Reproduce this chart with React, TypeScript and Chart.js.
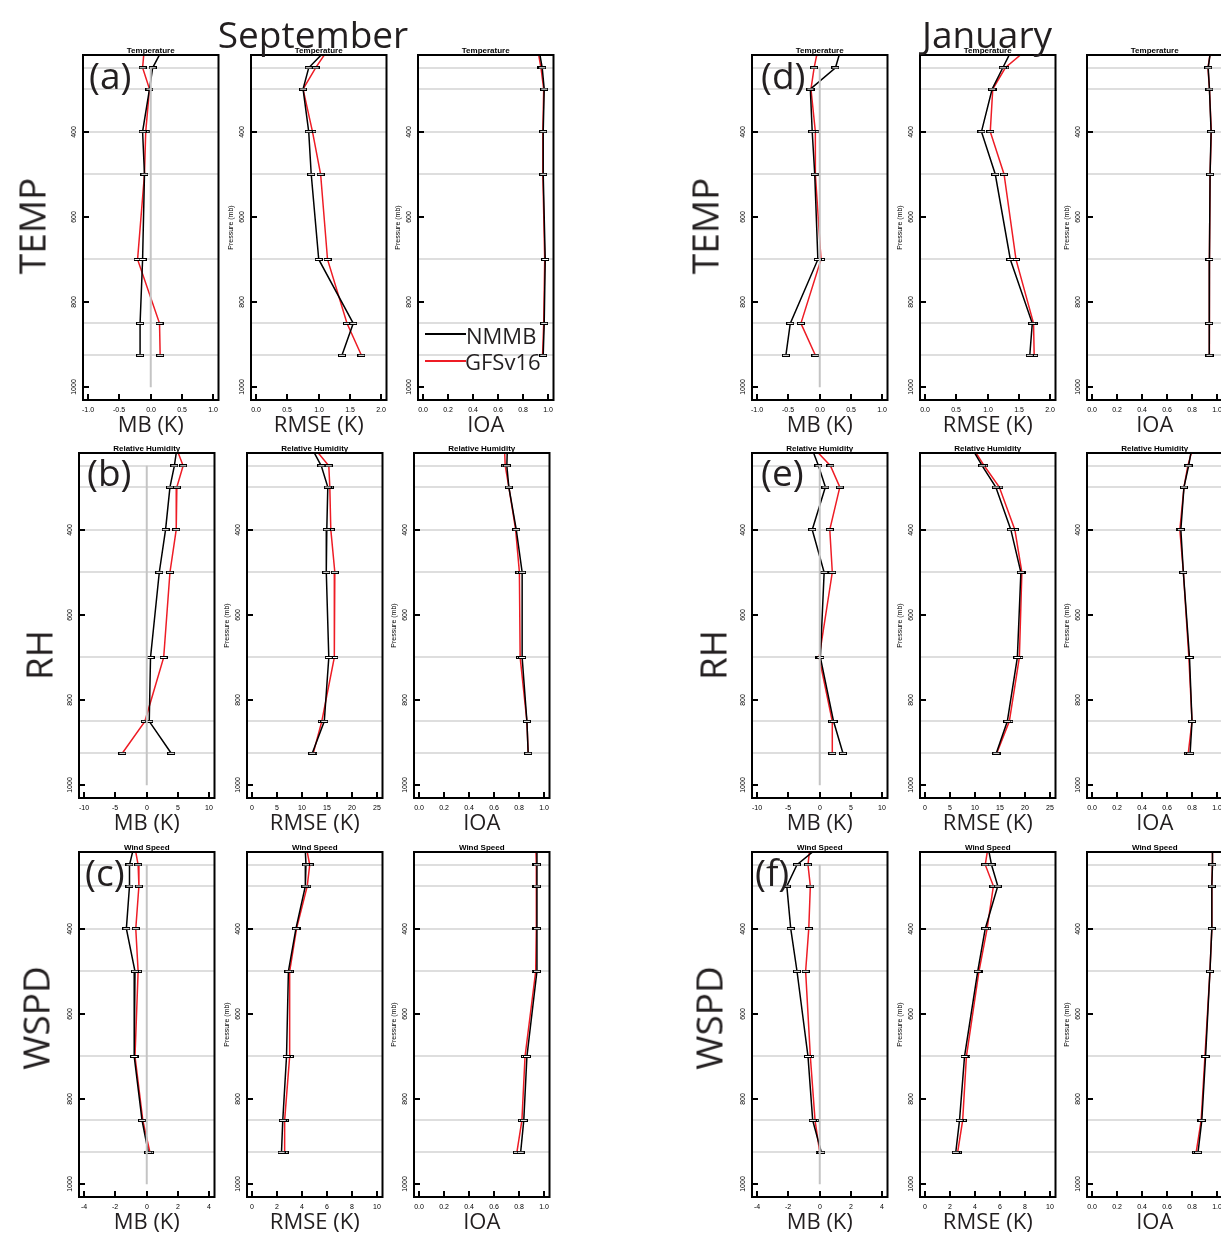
import React, { useEffect, useRef } from "react";
import { Chart, registerables } from "chart.js";
Chart.register(...registerables);

// ---------- data ----------
const LEVELS = [200, 250, 300, 400, 500, 700, 850, 925];
const GRID_LEVELS = [250, 300, 400, 500, 700, 850, 925];
const Y_TICKS = [400, 600, 800, 1000];

const TEMP_MB_TICKS = [-1, -0.5, 0, 0.5, 1];
const TEMP_RMSE_TICKS = [0, 0.5, 1, 1.5, 2];
const IOA_TICKS = [0, 0.2, 0.4, 0.6, 0.8, 1];
const RH_MB_TICKS = [-10, -5, 0, 5, 10];
const RH_RMSE_TICKS = [0, 5, 10, 15, 20, 25];
const WS_MB_TICKS = [-4, -2, 0, 2, 4];
const WS_RMSE_TICKS = [0, 2, 4, 6, 8, 10];

// September
const sepTempMB_NMMB = [0.21, 0.03, -0.02, -0.13, -0.1, -0.13, -0.17, -0.17];
const sepTempMB_GFS = [-0.1, -0.13, -0.02, -0.08, -0.1, -0.21, 0.14, 0.15];
const sepTempRMSE_NMMB = [1.17, 0.84, 0.75, 0.84, 0.88, 1.0, 1.55, 1.37];
const sepTempRMSE_GFS = [1.18, 0.95, 0.75, 0.9, 1.03, 1.14, 1.45, 1.68];
const sepTempIOA_NMMB = [0.92, 0.95, 0.966, 0.958, 0.958, 0.974, 0.966, 0.958];
const sepTempIOA_GFS = [0.91, 0.94, 0.962, 0.955, 0.955, 0.97, 0.962, 0.953];

const sepRhMB_NMMB = [4.9, 4.4, 3.7, 3.0, 2.0, 0.6, 0.4, 3.9];
const sepRhMB_GFS = [4.5, 5.8, 4.8, 4.7, 3.7, 2.7, -0.3, -3.9];
const sepRhRMSE_NMMB = [11.5, 13.8, 15.1, 14.9, 14.8, 15.3, 14.4, 12.0];
const sepRhRMSE_GFS = [11.8, 15.3, 15.5, 15.7, 16.5, 16.4, 13.9, 12.2];
const sepRhIOA_NMMB = [0.705, 0.7, 0.716, 0.775, 0.822, 0.822, 0.86, 0.87];
const sepRhIOA_GFS = [0.68, 0.687, 0.716, 0.77, 0.8, 0.806, 0.86, 0.87];

const sepWsMB_NMMB = [-0.77, -1.1, -1.1, -1.3, -0.75, -0.8, -0.3, 0.1];
const sepWsMB_GFS = [-0.8, -0.55, -0.5, -0.7, -0.55, -0.75, -0.25, 0.2];
const sepWsRMSE_NMMB = [4.22, 4.3, 4.25, 3.5, 2.9, 2.75, 2.45, 2.35];
const sepWsRMSE_GFS = [4.27, 4.6, 4.4, 3.55, 3.0, 3.0, 2.6, 2.6];
const sepWsIOA_NMMB = [0.94, 0.94, 0.94, 0.94, 0.94, 0.86, 0.835, 0.81];
const sepWsIOA_GFS = [0.93, 0.935, 0.935, 0.935, 0.93, 0.845, 0.82, 0.78];

// January
const janTempMB_NMMB = [0.35, 0.25, -0.15, -0.12, -0.08, -0.03, -0.47, -0.54];
const janTempMB_GFS = [-0.02, -0.09, -0.14, -0.07, -0.07, 0.02, -0.3, -0.07];
const janTempRMSE_NMMB = [1.41, 1.24, 1.07, 0.9, 1.12, 1.36, 1.71, 1.67];
const janTempRMSE_GFS = [1.68, 1.28, 1.08, 1.04, 1.26, 1.45, 1.73, 1.74];
const janTempIOA_NMMB = [0.95, 0.926, 0.936, 0.949, 0.941, 0.936, 0.933, 0.936];
const janTempIOA_GFS = [0.95, 0.924, 0.936, 0.951, 0.941, 0.936, 0.934, 0.937];

const janRhMB_NMMB = [-1.5, -0.2, 0.9, -1.2, 0.7, 0.1, 2.2, 3.7];
const janRhMB_GFS = [-1.5, 1.7, 3.2, 1.6, 2.0, -0.1, 2.0, 2.0];
const janRhRMSE_NMMB = [8.9, 11.4, 14.1, 17.1, 19.1, 18.4, 16.4, 14.2];
const janRhRMSE_GFS = [9.1, 11.8, 14.8, 17.9, 19.3, 18.8, 16.8, 14.3];
const janRhIOA_NMMB = [0.8, 0.77, 0.733, 0.708, 0.728, 0.777, 0.797, 0.782];
const janRhIOA_GFS = [0.81, 0.764, 0.733, 0.7, 0.728, 0.772, 0.797, 0.767];

const janWsMB_NMMB = [0.2, -1.45, -2.1, -1.85, -1.45, -0.75, -0.45, 0.1];
const janWsMB_GFS = [-0.6, -0.75, -0.6, -0.7, -0.9, -0.6, -0.3, 0.0];
const janWsRMSE_NMMB = [4.97, 5.3, 5.8, 4.8, 4.2, 3.15, 2.75, 2.45];
const janWsRMSE_GFS = [5.07, 4.8, 5.45, 4.95, 4.3, 3.3, 3.0, 2.6];
const janWsIOA_NMMB = [0.96, 0.96, 0.955, 0.955, 0.94, 0.905, 0.875, 0.845];
const janWsIOA_GFS = [0.96, 0.96, 0.955, 0.955, 0.94, 0.9, 0.87, 0.83];

// ---------- layout ----------
const PL = 34, PT = 14, PR = 4, PB = 44;
const BOX_W = 137;
const ROWS = [
  { top: 55, h: 345 },
  { top: 453, h: 345 },
  { top: 852, h: 345 },
];
const SEP_X = [[83, 251, 418], [79, 247, 414], [79, 247, 414]];
const JAN_X = [[752, 920, 1087], [752, 920, 1087], [752, 920, 1087]];
const TITLES = ["Temperature", "Relative Humidity", "Wind Speed"];
const KINDS = [
  { name: "MB (K)", zero: true },
  { name: "RMSE (K)", zero: false },
  { name: "IOA", zero: false },
];
const RANGES = [
  [{ t: TEMP_MB_TICKS, d: 1 }, { t: TEMP_RMSE_TICKS, d: 1 }, { t: IOA_TICKS, d: 1 }],
  [{ t: RH_MB_TICKS, d: 0 }, { t: RH_RMSE_TICKS, d: 0 }, { t: IOA_TICKS, d: 1 }],
  [{ t: WS_MB_TICKS, d: 0 }, { t: WS_RMSE_TICKS, d: 0 }, { t: IOA_TICKS, d: 1 }],
];
const SEP_SERIES = [
  [[sepTempMB_NMMB, sepTempMB_GFS], [sepTempRMSE_NMMB, sepTempRMSE_GFS], [sepTempIOA_NMMB, sepTempIOA_GFS]],
  [[sepRhMB_NMMB, sepRhMB_GFS], [sepRhRMSE_NMMB, sepRhRMSE_GFS], [sepRhIOA_NMMB, sepRhIOA_GFS]],
  [[sepWsMB_NMMB, sepWsMB_GFS], [sepWsRMSE_NMMB, sepWsRMSE_GFS], [sepWsIOA_NMMB, sepWsIOA_GFS]],
];
const JAN_SERIES = [
  [[janTempMB_NMMB, janTempMB_GFS], [janTempRMSE_NMMB, janTempRMSE_GFS], [janTempIOA_NMMB, janTempIOA_GFS]],
  [[janRhMB_NMMB, janRhMB_GFS], [janRhRMSE_NMMB, janRhRMSE_GFS], [janRhIOA_NMMB, janRhIOA_GFS]],
  [[janWsMB_NMMB, janWsMB_GFS], [janWsRMSE_NMMB, janWsRMSE_GFS], [janWsIOA_NMMB, janWsIOA_GFS]],
];

const SMALL_FONT = '7px "Liberation Sans", Arial, sans-serif';
const BIG_FONT = '"Open Sans", "Noto Sans", sans-serif';
const RED = "#ee1c25";

let markerCache: HTMLCanvasElement | null = null;
function marker() {
  if (markerCache) return markerCache;
  const c = document.createElement("canvas");
  c.width = 8;
  c.height = 3;
  const g = c.getContext("2d")!;
  g.fillStyle = "#000";
  g.fillRect(0, 0, 8, 3);
  g.fillStyle = "#fff";
  g.fillRect(1, 1, 6, 1);
  markerCache = c;
  return c;
}

const decoPlugin = {
  id: "deco",
  beforeDatasetsDraw(chart: any) {
    const { ctx, chartArea: a, scales } = chart;
    const y = scales.y;
    ctx.save();
    ctx.strokeStyle = "#dedede";
    ctx.lineWidth = 2;
    GRID_LEVELS.forEach((l) => {
      const py = Math.round(y.getPixelForValue(l));
      ctx.beginPath();
      ctx.moveTo(a.left, py);
      ctx.lineTo(a.right, py);
      ctx.stroke();
    });
    ctx.restore();
  },
  afterDraw(chart: any, _a: any, o: any) {
    const { ctx, chartArea: a, scales } = chart;
    const x = scales.x, y = scales.y;
    ctx.save();
    ctx.strokeStyle = "#000";
    ctx.lineWidth = 2;
    ctx.strokeRect(a.left, a.top, a.right - a.left, a.bottom - a.top);
    ctx.fillStyle = "#000";
    ctx.font = SMALL_FONT;
    ctx.textAlign = "center";
    ctx.textBaseline = "middle";
    o.ticks.forEach((v: number) => {
      const px = Math.round(x.getPixelForValue(v));
      ctx.beginPath();
      ctx.moveTo(px, a.bottom);
      ctx.lineTo(px, a.bottom - 6);
      ctx.stroke();
      ctx.fillText(v.toFixed(o.dec), px, a.bottom + 10);
    });
    Y_TICKS.forEach((v) => {
      const py = Math.round(y.getPixelForValue(v));
      ctx.beginPath();
      ctx.moveTo(a.left, py);
      ctx.lineTo(a.left + 6, py);
      ctx.stroke();
      ctx.save();
      ctx.translate(a.left - 9, py);
      ctx.rotate(-Math.PI / 2);
      ctx.fillText(String(v), 0, 0);
      ctx.restore();
    });
    if (o.yTitle) {
      ctx.save();
      ctx.translate(a.left - 20, (a.top + a.bottom) / 2);
      ctx.rotate(-Math.PI / 2);
      ctx.fillText("Pressure (mb)", 0, 0);
      ctx.restore();
    }
    ctx.font = 'bold 8px "Liberation Sans", Arial, sans-serif';
    ctx.textBaseline = "alphabetic";
    ctx.fillText(o.title, (a.left + a.right) / 2, a.top - 2);
    ctx.font = "22px " + BIG_FONT;
    ctx.fillStyle = "#231f20";
    ctx.fillText(o.xTitle, (a.left + a.right) / 2, a.bottom + 32);
    ctx.restore();
  },
};

type PanelProps = {
  left: number;
  top: number;
  h: number;
  ticks: number[];
  dec: number;
  zero: boolean;
  nmmb: number[];
  gfs: number[];
  title: string;
  xTitle: string;
  yTitle: boolean;
};

function Panel(p: PanelProps) {
  const ref = useRef<HTMLCanvasElement>(null);
  useEffect(() => {
    const lo = p.ticks[0], hi = p.ticks[p.ticks.length - 1];
    const ext = (hi - lo) * 0.04;
    const datasets: any[] = [];
    if (p.zero) {
      datasets.push({
        data: [{ x: 0, y: 250 }, { x: 0, y: 1000 }],
        borderColor: "#c4c4c4",
        borderWidth: 2,
        pointRadius: 0,
      });
    }
    datasets.push({
      label: "NMMB",
      data: LEVELS.map((l, i) => ({ x: p.nmmb[i], y: l })),
      borderColor: "#000",
      borderWidth: 1.5,
      pointStyle: marker(),
      pointRadius: 4,
    });
    datasets.push({
      label: "GFSv16",
      data: LEVELS.map((l, i) => ({ x: p.gfs[i], y: l })),
      borderColor: RED,
      borderWidth: 1.5,
      pointStyle: marker(),
      pointRadius: 4,
    });
    const chart = new Chart(ref.current!, {
      type: "line",
      data: { datasets },
      plugins: [decoPlugin],
      options: {
        animation: false,
        responsive: false,
        devicePixelRatio: 1,
        events: [],
        layout: { padding: { left: PL, top: PT, right: PR, bottom: PB } },
        scales: {
          x: { type: "linear", min: lo - ext, max: hi + ext, display: false },
          y: { type: "linear", min: 220, max: 1030, reverse: true, display: false },
        },
        plugins: {
          legend: { display: false },
          tooltip: { enabled: false },
          deco: { ticks: p.ticks, dec: p.dec, title: p.title, xTitle: p.xTitle, yTitle: p.yTitle },
        } as any,
      },
    });
    return () => chart.destroy();
  }, []);
  return (
    <canvas
      ref={ref}
      width={BOX_W + PL + PR}
      height={p.h + PT + PB}
      style={{ position: "absolute", left: p.left - PL, top: p.top - PT }}
    />
  );
}

function Label({ text, x, y, size, rotate, left }: { text: string; x: number; y: number; size: number; rotate?: boolean; left?: boolean }) {
  return (
    <div
      style={{
        position: "absolute",
        left: x,
        top: y,
        transform: left ? "translate(0,-50%)" : rotate ? "translate(-50%,-50%) rotate(-90deg)" : "translate(-50%,-50%)",
        fontFamily: BIG_FONT,
        fontSize: size,
        lineHeight: 1,
        whiteSpace: "nowrap",
        color: "#231f20",
      }}
    >
      {text}
    </div>
  );
}

export default function App() {
  const panels: PanelProps[] = [];
  [SEP_X, JAN_X].forEach((xs, m) => {
    const series = m === 0 ? SEP_SERIES : JAN_SERIES;
    for (let r = 0; r < 3; r++) {
      for (let c = 0; c < 3; c++) {
        panels.push({
          left: xs[r][c],
          top: ROWS[r].top,
          h: ROWS[r].h,
          ticks: RANGES[r][c].t,
          dec: RANGES[r][c].d,
          zero: KINDS[c].zero,
          nmmb: series[r][c][0],
          gfs: series[r][c][1],
          title: TITLES[r],
          xTitle: KINDS[c].name,
          yTitle: c > 0,
        });
      }
    }
  });
  return (
    <div style={{ position: "fixed", left: 0, top: 0, width: 1221, height: 1235, overflow: "hidden", background: "#fff" }}>
      {panels.map((p, i) => (
        <Panel key={i} {...p} />
      ))}
      <Label text="September" x={313} y={33} size={37} />
      <Label text="January" x={987} y={33} size={37} />
      <Label text="TEMP" x={31} y={226} size={37} rotate />
      <Label text="RH" x={38} y={655} size={37} rotate />
      <Label text="WSPD" x={35} y={1018} size={37} rotate />
      <Label text="TEMP" x={704} y={226} size={37} rotate />
      <Label text="RH" x={712} y={655} size={37} rotate />
      <Label text="WSPD" x={708} y={1018} size={37} rotate />
      <Label text="(a)" x={89} y={74} size={37} left />
      <Label text="(b)" x={87} y={471} size={37} left />
      <Label text="(c)" x={85} y={871} size={37} left />
      <Label text="(d)" x={761} y={74} size={37} left />
      <Label text="(e)" x={761} y={471} size={37} left />
      <Label text="(f)" x={755} y={871} size={37} left />
      <div style={{ position: "absolute", left: 425, top: 333, width: 41, height: 2, background: "#000" }} />
      <div style={{ position: "absolute", left: 425, top: 360, width: 41, height: 2, background: RED }} />
      <Label text="NMMB" x={466} y={335} size={22} left />
      <Label text="GFSv16" x={465} y={361} size={22} left />
    </div>
  );
}
